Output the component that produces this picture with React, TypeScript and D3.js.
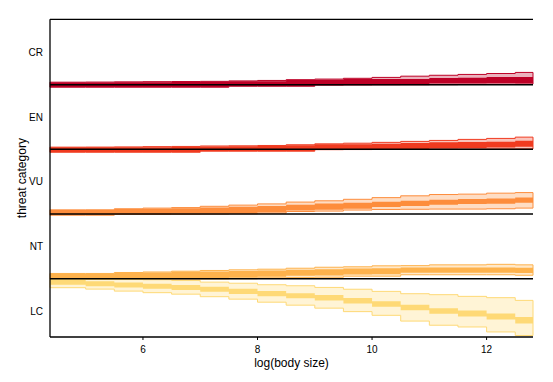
import React from "react";
import * as d3 from "d3";

const W = 553;
const H = 382;
const M = { left: 50, right: 533, top: 19.3, bottom: 337 };

// x grid (log body size), step starts
const xs = [4.38, 5.0, 5.5, 6.0, 6.5, 7.0, 7.5, 8.0, 8.5, 9.0, 9.5, 10.0, 10.5, 11.0, 11.5, 12.0, 12.5];
const X_MIN = 4.377;
const X_MAX = 12.81;
const xTicks = [6, 8, 10, 12];

const categories = ["LC", "NT", "VU", "EN", "CR"];

// CR
const crInnerLo = [-0.037, -0.037, -0.037, -0.037, -0.037, -0.037, -0.022, -0.022, -0.022, -0.005, 0, 0.003, 0.005, 0.018, 0.018, 0.02, 0.023];
const crInnerHi = [0.035, 0.035, 0.037, 0.038, 0.04, 0.043, 0.051, 0.054, 0.071, 0.074, 0.086, 0.086, 0.089, 0.102, 0.105, 0.117, 0.12];
const crOuterLo = [-0.04, -0.04, -0.04, -0.04, -0.04, -0.04, -0.025, -0.025, -0.025, -0.008, -0.005, -0.003, -0.002, 0, 0.003, 0.005, 0.009];
const crOuterHi = [0.038, 0.04, 0.043, 0.046, 0.048, 0.051, 0.058, 0.065, 0.077, 0.086, 0.098, 0.112, 0.131, 0.145, 0.158, 0.172, 0.189];

// EN
const enInnerLo = [-0.042, -0.042, -0.042, -0.042, -0.042, -0.026, -0.026, -0.026, -0.026, 0, 0.002, 0.003, 0.006, 0.012, 0.018, 0.028, 0.04];
const enInnerHi = [0.031, 0.031, 0.032, 0.034, 0.037, 0.046, 0.048, 0.051, 0.062, 0.077, 0.08, 0.086, 0.098, 0.108, 0.112, 0.117, 0.132];
const enOuterLo = [-0.045, -0.045, -0.045, -0.045, -0.045, -0.029, -0.029, -0.029, -0.029, -0.005, -0.003, -0.002, 0, 0.002, 0.003, 0.005, 0.006];
const enOuterHi = [0.034, 0.035, 0.038, 0.042, 0.045, 0.052, 0.055, 0.06, 0.071, 0.085, 0.095, 0.108, 0.123, 0.138, 0.154, 0.169, 0.189];

// VU
const vuInnerLo = [-0.015, -0.015, 0, 0, 0.003, 0.008, 0.015, 0.028, 0.054, 0.066, 0.082, 0.108, 0.123, 0.143, 0.154, 0.158, 0.174];
const vuInnerHi = [0.062, 0.062, 0.077, 0.082, 0.089, 0.1, 0.112, 0.123, 0.143, 0.162, 0.174, 0.189, 0.205, 0.22, 0.231, 0.24, 0.255];
const vuOuterLo = [-0.018, -0.018, -0.005, -0.005, -0.003, 0, 0.005, 0.015, 0.04, 0.046, 0.062, 0.071, 0.074, 0.077, 0.077, 0.082, 0.092];
const vuOuterHi = [0.065, 0.066, 0.082, 0.092, 0.1, 0.12, 0.138, 0.157, 0.185, 0.205, 0.228, 0.254, 0.282, 0.302, 0.308, 0.323, 0.332];

// NT
const ntInnerLo = [0, 0, 0, 0, 0, 0.012, 0.015, 0.031, 0.046, 0.051, 0.066, 0.069, 0.092, 0.092, 0.092, 0.092, 0.089];
const ntInnerHi = [0.077, 0.077, 0.092, 0.095, 0.108, 0.112, 0.12, 0.128, 0.138, 0.148, 0.158, 0.162, 0.174, 0.174, 0.174, 0.174, 0.169];
const ntOuterLo = [-0.005, -0.005, -0.005, -0.005, -0.005, -0.003, 0, 0.015, 0.018, 0.023, 0.04, 0.04, 0.062, 0.062, 0.062, 0.062, 0.054];
const ntOuterHi = [0.082, 0.082, 0.097, 0.105, 0.117, 0.128, 0.138, 0.148, 0.163, 0.178, 0.185, 0.2, 0.203, 0.215, 0.215, 0.223, 0.215];

// LC (drawn downward from its baseline)
const lcOuterLo = [0.011, 0.011, 0.011, 0.015, 0.026, 0.052, 0.069, 0.092, 0.108, 0.134, 0.162, 0.195, 0.231, 0.246, 0.272, 0.292, 0.334];
const lcInnerLo = [0.015, 0.037, 0.057, 0.077, 0.097, 0.123, 0.154, 0.191, 0.222, 0.252, 0.298, 0.346, 0.4, 0.457, 0.492, 0.538, 0.592];
const lcInnerHi = [0.092, 0.114, 0.134, 0.154, 0.174, 0.2, 0.234, 0.271, 0.302, 0.334, 0.382, 0.431, 0.485, 0.542, 0.582, 0.631, 0.692];
const lcOuterHi = [0.138, 0.16, 0.191, 0.215, 0.238, 0.277, 0.315, 0.362, 0.408, 0.454, 0.508, 0.565, 0.654, 0.718, 0.745, 0.822, 0.877];

const colors = { CR: "#BD0026", EN: "#F03B20", VU: "#FD8D3C", NT: "#FEB24C", LC: "#FED976" };

type Panel = {
  name: string;
  base: number;
  dir: number;
  innerLo: number[];
  innerHi: number[];
  outerLo: number[];
  outerHi: number[];
};

const panels: Panel[] = [
  { name: "CR", base: 4.5, dir: 1, innerLo: crInnerLo, innerHi: crInnerHi, outerLo: crOuterLo, outerHi: crOuterHi },
  { name: "EN", base: 3.5, dir: 1, innerLo: enInnerLo, innerHi: enInnerHi, outerLo: enOuterLo, outerHi: enOuterHi },
  { name: "VU", base: 2.5, dir: 1, innerLo: vuInnerLo, innerHi: vuInnerHi, outerLo: vuOuterLo, outerHi: vuOuterHi },
  { name: "NT", base: 1.5, dir: 1, innerLo: ntInnerLo, innerHi: ntInnerHi, outerLo: ntOuterLo, outerHi: ntOuterHi },
  { name: "LC", base: 1.5, dir: -1, innerLo: lcInnerLo, innerHi: lcInnerHi, outerLo: lcOuterLo, outerHi: lcOuterHi },
];
const baselines = [1.5, 2.5, 3.5, 4.5];

export default function App() {
  const x = d3.scaleLinear().domain([X_MIN, X_MAX]).range([M.left, M.right]);
  const y = d3.scaleLinear().domain([0.6, 5.51]).range([M.bottom, M.top]);
  const font = "Liberation Sans, Arial, sans-serif";

  const bandPath = (p: Panel, lo: number[], hi: number[]) => {
    const pts = xs.map((xv, i) => ({ x: i === 0 ? X_MIN : xv, lo: lo[i], hi: hi[i] }));
    pts.push({ x: X_MAX, lo: lo[lo.length - 1], hi: hi[hi.length - 1] });
    const area = d3
      .area<{ x: number; lo: number; hi: number }>()
      .x((d) => x(d.x))
      .y0((d) => y(p.base + p.dir * d.lo))
      .y1((d) => y(p.base + p.dir * d.hi))
      .curve(d3.curveStepAfter);
    return area(pts) || "";
  };

  return (
    <svg width={W} height={H} style={{ position: "absolute", left: 0, top: 0, background: "#fff" }}>
      {panels.map((p) => {
        const c = (colors as any)[p.name];
        return (
          <g key={p.name}>
            <path d={bandPath(p, p.outerLo, p.outerHi)} fill={c} fillOpacity={0.3} stroke={c} strokeWidth={1} />
            <path d={bandPath(p, p.innerLo, p.innerHi)} fill={c} stroke="none" />
          </g>
        );
      })}
      {baselines.map((b) => (
        <line key={b} x1={M.left} x2={M.right} y1={y(b)} y2={y(b)} stroke="#000" strokeWidth={1.5} />
      ))}
      {/* frame */}
      <line x1={M.left} x2={M.right} y1={M.top} y2={M.top} stroke="#000" strokeWidth={1.3} />
      <line x1={M.left} x2={M.right} y1={M.bottom} y2={M.bottom} stroke="#000" strokeWidth={1.3} />
      <line x1={M.left} x2={M.left} y1={M.top} y2={M.bottom} stroke="#000" strokeWidth={1.3} />
      {xTicks.map((t) => (
        <g key={t}>
          <line x1={x(t)} x2={x(t)} y1={M.bottom} y2={M.bottom + 3} stroke="#000" strokeWidth={1} />
          <text x={x(t)} y={352.7} textAnchor="middle" fontSize={10} fontFamily={font} fill="#000">
            {t}
          </text>
        </g>
      ))}
      {categories.map((c, i) => (
        <text key={c} x={43} y={y(i + 1) + 3.6} textAnchor="end" fontSize={10} fontFamily={font} fill="#000">
          {c}
        </text>
      ))}
      <text x={(M.left + M.right) / 2} y={367} textAnchor="middle" fontSize={12} fontFamily={font} fill="#000">
        log(body size)
      </text>
      <text
        transform={`translate(25.5,${(M.top + M.bottom) / 2}) rotate(-90)`}
        textAnchor="middle"
        fontSize={12}
        fontFamily={font}
        fill="#000"
      >
        threat category
      </text>
    </svg>
  );
}
